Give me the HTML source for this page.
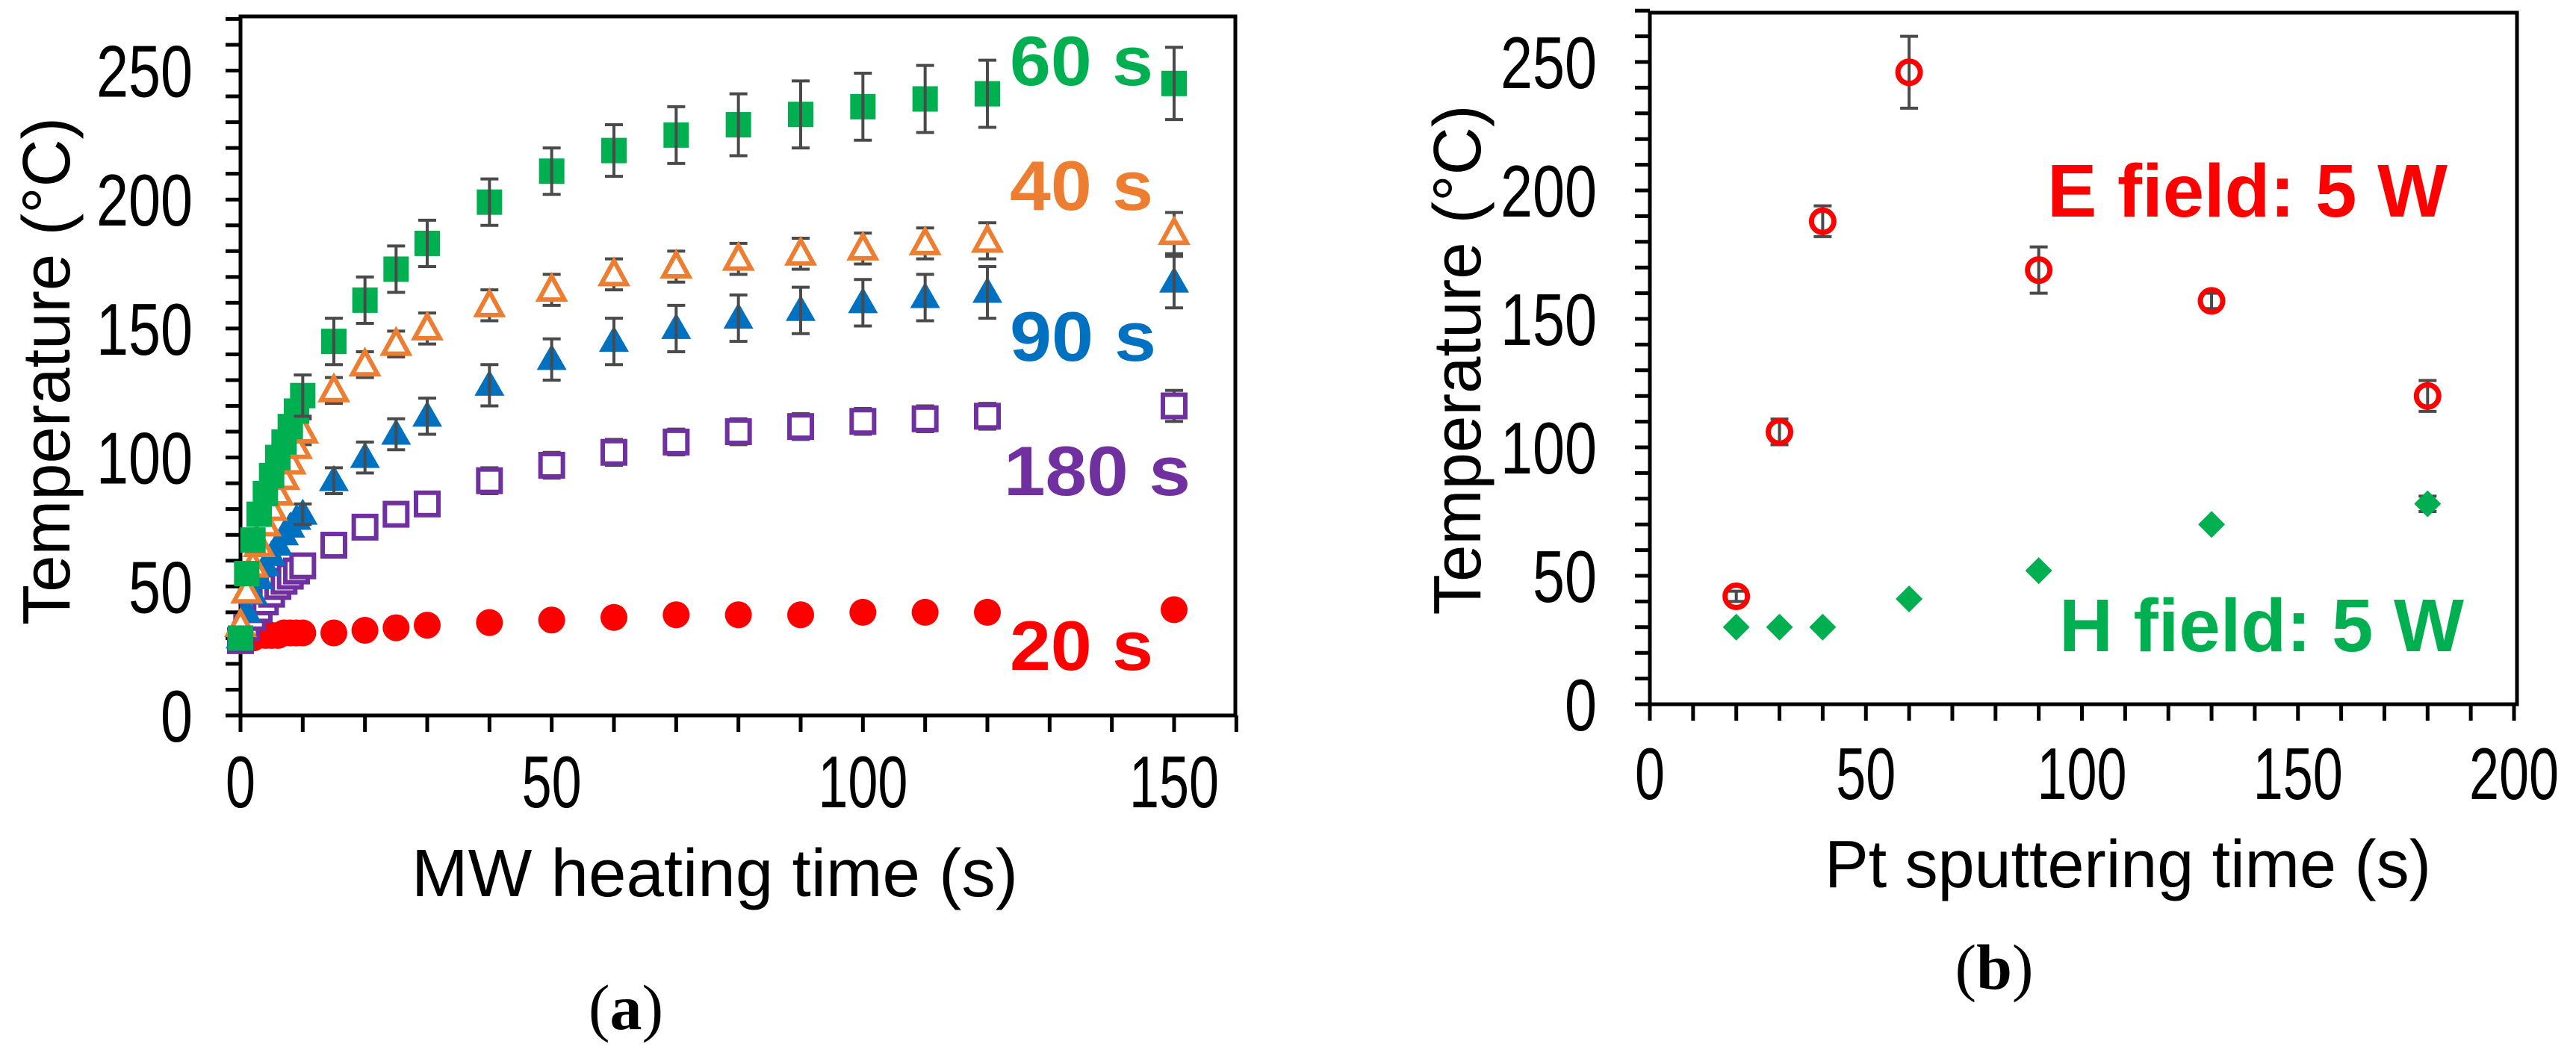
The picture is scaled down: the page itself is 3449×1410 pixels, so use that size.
<!DOCTYPE html>
<html><head><meta charset="utf-8"><style>
html,body{margin:0;padding:0;background:#fff;}
svg{display:block;font-family:"Liberation Sans",Arial,sans-serif;}
</style></head><body>
<svg id="fig" width="3449" height="1410" viewBox="0 0 3449 1410" xmlns="http://www.w3.org/2000/svg">
<rect width="3449" height="1410" fill="#fff"/>
<g id="pa"></g>
<g id="pb"></g>
</svg>
<script>
// ---- Panel (a) data ----
const aX = [0,1,2,3,4,5,6,7,8,9,10,15,20,25,30,40,50,60,70,80,90,100,110,120,150];
const a60 = [30,55,68,78,86,93,100,106,112,118,124,145,161,173,183,199,211,219,225,229,233,236,239,241,245];
const a60err = [2,3,4,4,5,5,6,6,7,7,8,9,9,9,9,9,9,10,11,12,13,13,13,13,14];
const a40 = [35,48,58,66,74,80,86,92,98,104,110,126,136,144,150,159,165,171,174,177,179,181,183,184,187];
const a40err = [2,3,3,3,4,4,4,4,5,5,5,5,5,5,6,6,6,6,6,6,6,6,6,7,8];
const a90 = [30,40,47,53,58,62,66,70,73,76,78,91,100,109,116,128,138,145,150,154,157,160,162,164,168];
const a90err = [2,2,2,3,3,3,3,3,4,4,4,5,6,6,7,8,8,9,9,9,9,9,9,10,10];
const a180 = [29,34,38,41,44,47,50,52,54,56,58,66,73,78,82,91,97,102,106,110,112,114,115,116,120];
const a180err = [1,2,2,2,2,2,2,3,3,3,3,3,4,4,4,5,5,5,5,5,5,5,5,5,6];
const a20 = [29,30,30,31,31,31,31,32,32,32,32,32,33,34,35,36,37,38,39,39,39,40,40,40,41];
const aYTicks = [0,50,100,150,200,250];
const aXTicks = [0,50,100,150];
// ---- Panel (b) data ----
const bX = [20,30,40,60,90,130,180];
const bE = [42,106,188,246,169,157,120];
const bEerr = [2,5,6,14,9,3,6];
const bH = [30,30,30,41,52,70,78];
const bHerr = [1,1,1,1,1,2,3];
const bYTicks = [0,50,100,150,200,250];
const bXTicks = [0,50,100,150,200];

const NS = "http://www.w3.org/2000/svg";
function mk(parent, tag, attrs, text){
  const e = document.createElementNS(NS, tag);
  for (const k in attrs) e.setAttribute(k, attrs[k]);
  if (text !== undefined) e.textContent = text;
  parent.appendChild(e);
  return e;
}
const GREEN="#00b050", ORANGE="#ed7d31", BLUE="#0070c0", PURPLE="#7030a0", RED="#ff0000", EB="#4a4a4a";

function axes(g, o){
  const fr = mk(g,'rect',{x:o.x0,y:o.top,width:o.right-o.x0,height:o.y0-o.top,fill:'none',stroke:'#000','stroke-width':5});
  
  
  for (let v=o.xmin; v<=o.xmax+0.01; v+=o.xminor){
    const t = mk(g,'line',{x1:o.sx(v),x2:o.sx(v),y1:o.y0,y2:o.y0+22,stroke:'#000','stroke-width':5});
    
    
  }
  for (let v=0; v<=o.ymax+0.01; v+=10){
    const t = mk(g,'line',{x1:o.x0-20,x2:o.x0,y1:o.sy(v),y2:o.sy(v),stroke:'#000','stroke-width':5});
    
    
  }
  o.yt.forEach(v=>{
    const s = String(v);
    const t = mk(g,'text',{x:o.ylabR,y:o.sy(v)+35,'text-anchor':'end','font-size':98,textLength:s.length*43,lengthAdjust:'spacingAndGlyphs',fill:'#000'},s);
    
    
  });
  o.xt.forEach(v=>{
    const s = String(v);
    const t = mk(g,'text',{x:o.sx(v),y:o.xlabY+35,'text-anchor':'middle','font-size':98,textLength:s.length*40,lengthAdjust:'spacingAndGlyphs',fill:'#000'},s);
    
    
  });
}
function errbar(g, x, y1, y2){
  const e = mk(g,'path',{d:`M${x},${y1}V${y2}M${x-12},${y1}H${x+12}M${x-12},${y2}H${x+12}`,stroke:EB,'stroke-width':4,fill:'none'});
  
  
}

// ===== Panel A =====
(function(){
  const g = document.getElementById('pa');
  const x0=322, x150=1572, y0=958, y250=94.5;
  const sx = v => x0 + (x150-x0)*v/150;
  const sy = v => y0 - (y0-y250)*v/250;
  axes(g,{x0,y0,top:22,right:1654,sx,sy,xmin:0,xmax:160,xminor:10,ymax:270,yt:aYTicks,xt:aXTicks,ylabR:258,xlabY:1046});
  const series = [
    {vals:a180, err:a180err},
    {vals:a40, err:a40err}
  ];
  series.forEach(s=>{
    aX.forEach((xv,i)=>{ if(xv>=10) errbar(g, sx(xv), sy(s.vals[i]+s.err[i]), sy(s.vals[i]-s.err[i])); });
  });
  aX.forEach((xv,i)=>{
    const m = mk(g,'circle',{cx:sx(xv),cy:sy(a20[i]),r:18,fill:RED});
    
    
  });
  aX.forEach((xv,i)=>{
    const m = mk(g,'rect',{x:sx(xv)-15,y:sy(a180[i])-15,width:30,height:30,fill:'#fff',stroke:PURPLE,'stroke-width':6});
    
    
  });
  aX.forEach((xv,i)=>{
    const cx=sx(xv), cy=sy(a90[i]);
    const m = mk(g,'polygon',{points:`${cx},${cy-21} ${cx+20},${cy+14} ${cx-20},${cy+14}`,fill:BLUE});
    
    
  });
  aX.forEach((xv,i)=>{
    const cx=sx(xv), cy=sy(a40[i]);
    const m = mk(g,'polygon',{points:`${cx},${cy-18} ${cx+17},${cy+13} ${cx-17},${cy+13}`,fill:'#fff',stroke:ORANGE,'stroke-width':6});
    
    
  });
  aX.forEach((xv,i)=>{
    const m = mk(g,'rect',{x:sx(xv)-17,y:sy(a60[i])-17,width:34,height:34,fill:GREEN});
    
    
  });
  [{v:a60,e:a60err},{v:a90,e:a90err}].forEach(s=>{
    aX.forEach((xv,i)=>{ if(xv>=10) errbar(g, sx(xv), sy(s.v[i]+s.e[i]), sy(s.v[i]-s.e[i])); });
  });
  const labels = [
    {t:'60 s',c:GREEN,x:1352,y:81,w:192,n:'label-60s'},
    {t:'40 s',c:ORANGE,x:1352,y:248,w:192,n:'label-40s'},
    {t:'90 s',c:BLUE,x:1352,y:450,w:196,n:'label-90s'},
    {t:'180 s',c:PURPLE,x:1344,y:630,w:250,n:'label-180s'},
    {t:'20 s',c:RED,x:1352,y:864,w:192,n:'label-20s'}
  ];
  labels.forEach(l=>{
    const t = mk(g,'text',{x:l.x,y:l.y+33,'font-size':94,'font-weight':'bold',fill:l.c,textLength:l.w,lengthAdjust:'spacingAndGlyphs'},l.t);
    
    
  });
  const xt = mk(g,'text',{x:957,y:1200,'text-anchor':'middle','font-size':90,textLength:812,lengthAdjust:'spacingAndGlyphs'},'MW heating time (s)');
  
  
  const yt = mk(g,'text',{x:0,y:0,'text-anchor':'middle','font-size':90,textLength:680,lengthAdjust:'spacingAndGlyphs',transform:'translate(93,497) rotate(-90)'},'Temperature (°C)');
  
  
  const cap = mk(g,'text',{x:838,y:1378,'text-anchor':'middle','font-size':86,'font-family':'"Liberation Serif",serif'},'');
  
  
  mk(cap,'tspan',{},'(');
  mk(cap,'tspan',{'font-weight':'bold'},'a');
  mk(cap,'tspan',{},')');
})();

// ===== Panel B =====
(function(){
  const g = document.getElementById('pb');
  const x0=2209, x200=3366, y0=943, y250=83;
  const sx = v => x0 + (x200-x0)*v/200;
  const sy = v => y0 - (y0-y250)*v/250;
  axes(g,{x0,y0,top:17,right:3370,sx,sy,xmin:0,xmax:200,xminor:10,ymax:270,yt:bYTicks,xt:bXTicks,ylabR:2138,xlabY:1035});
  bX.forEach((xv,i)=>{ errbar(g, sx(xv), sy(bE[i]+bEerr[i]), sy(bE[i]-bEerr[i])); });
  bX.forEach((xv,i)=>{ if(bHerr[i]>2) errbar(g, sx(xv), sy(bH[i]+bHerr[i]), sy(bH[i]-bHerr[i])); });
  bX.forEach((xv,i)=>{
    const m = mk(g,'circle',{cx:sx(xv),cy:sy(bE[i]),r:15,fill:'none',stroke:RED,'stroke-width':7});
    
    
  });
  bX.forEach((xv,i)=>{
    const cx=sx(xv), cy=sy(bH[i]);
    const m = mk(g,'polygon',{points:`${cx},${cy-18} ${cx+18},${cy} ${cx},${cy+18} ${cx-18},${cy}`,fill:GREEN});
    
    
  });
  const e = mk(g,'text',{x:2741,y:290,'font-size':100,'font-weight':'bold',fill:RED,textLength:536,lengthAdjust:'spacingAndGlyphs'},'E field: 5 W');
  
  
  const h = mk(g,'text',{x:2757,y:872,'font-size':100,'font-weight':'bold',fill:GREEN,textLength:542,lengthAdjust:'spacingAndGlyphs'},'H field: 5 W');
  
  
  const xt = mk(g,'text',{x:2849,y:1188,'text-anchor':'middle','font-size':90,textLength:812,lengthAdjust:'spacingAndGlyphs'},'Pt sputtering time (s)');
  
  
  const yt = mk(g,'text',{x:0,y:0,'text-anchor':'middle','font-size':90,textLength:683,lengthAdjust:'spacingAndGlyphs',transform:'translate(1982,482) rotate(-90)'},'Temperature (°C)');
  
  
  const cap = mk(g,'text',{x:2670,y:1324,'text-anchor':'middle','font-size':86,'font-family':'"Liberation Serif",serif'},'');
  
  
  mk(cap,'tspan',{},'(');
  mk(cap,'tspan',{'font-weight':'bold'},'b');
  mk(cap,'tspan',{},')');
})();
</script>
</body></html>
